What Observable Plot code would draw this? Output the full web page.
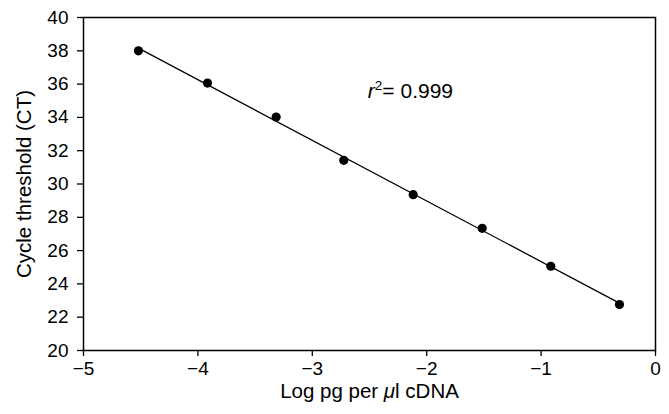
<!DOCTYPE html>
<html><head><meta charset="utf-8">
<script src="https://cdn.jsdelivr.net/npm/d3@7"></script>
<script src="https://cdn.jsdelivr.net/npm/@observablehq/plot@0.6"></script>
<style>body{margin:0;background:#fff;font-family:"Liberation Sans",Arial,sans-serif;}</style>
</head><body><div id="chart"></div>
<script>
const logConc = [-4.52, -3.916, -3.316, -2.725, -2.118, -1.515, -0.915, -0.315];
const ct = [38.0, 36.06, 34.02, 31.42, 29.36, 27.34, 25.06, 22.76];
const xTicks = [-5, -4, -3, -2, -1, 0];
const yTicks = [20, 22, 24, 26, 28, 30, 32, 34, 36, 38, 40];
const annotation = {x: -2.51, y: 35.6, r2: "0.999"};

const data = logConc.map((x, i) => ({x, y: ct[i]}));
const fmt = d => (d < 0 ? "\u2212" + Math.abs(d) : String(d));
const FS = 19, LFS = 20.5, AFS = 21;

const plot = Plot.plot({
  width: 669, height: 414,
  marginLeft: 83, marginRight: 14, marginTop: 17, marginBottom: 64,
  style: {fontFamily: "'Liberation Sans', Arial, sans-serif", color: "#000", background: "#fff"},
  x: {domain: [-5, 0]},
  y: {domain: [20, 40]},
  marks: [
    Plot.axisX({ticks: xTicks, tickFormat: fmt, tickSize: 6, tickPadding: 5, fontSize: FS, strokeWidth: 1.3, label: null}),
    Plot.axisX({ticks: [], tickSize: 0, fontSize: LFS,
      label: "Log pg per \u03bcl cDNA", labelAnchor: "center", labelArrow: "none", labelOffset: 47}),
    Plot.axisY({ticks: yTicks, tickFormat: fmt, tickSize: 6, tickPadding: 9, fontSize: FS, strokeWidth: 1.3, label: null}),
    Plot.axisY({ticks: [], tickSize: 0, fontSize: LFS,
      label: "Cycle threshold (CT)", labelAnchor: "center", labelArrow: "none", labelOffset: 67}),
    Plot.frame({stroke: "#000", strokeWidth: 1.5}),
    Plot.linearRegressionY(data, {x: "x", y: "y", ci: 0, stroke: "#000", strokeWidth: 1.3}),
    Plot.dot(data, {x: "x", y: "y", r: 4.6, fill: "#000", stroke: "none"})
  ]
});
document.getElementById("chart").appendChild(plot);

const sx = plot.scale("x"), sy = plot.scale("y");
const svg = d3.select(plot);
svg.selectAll("text").each(function() {
  const el = d3.select(this);
  if (el.text() === "Log pg per \u03bcl cDNA") {
    el.text(null);
    el.append("tspan").text("Log pg per ");
    el.append("tspan").attr("font-style", "italic").text("\u03bc");
    el.append("tspan").text("l cDNA");
  }
});
const t = svg.append("text")
  .attr("x", sx.apply(annotation.x)).attr("y", sy.apply(annotation.y))
  .attr("dy", "0.35em").attr("text-anchor", "start")
  .attr("font-family", "'Liberation Sans', Arial, sans-serif")
  .attr("font-size", AFS).attr("fill", "#000");
t.append("tspan").attr("font-style", "italic").text("r");
t.append("tspan").attr("font-size", 13.5).attr("dy", "-8").text("2");
t.append("tspan").attr("dy", "8").text("= " + annotation.r2);
</script></body></html>
